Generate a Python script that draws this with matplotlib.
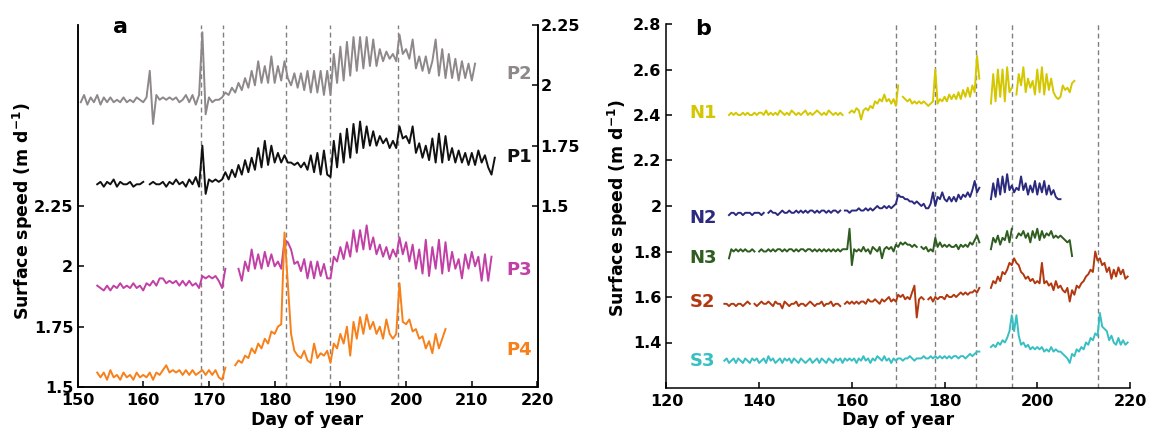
import numpy as np
import matplotlib
matplotlib.use("Agg")
import matplotlib.pyplot as plt

nan = np.nan

# ---- panel a: half-day samples, first sample at day 150.0 (rows = 5 days) ----
a_start = 150.0
p2 = [nan, 1.93, 1.96, 1.92, 1.95, 1.93, 1.96, 1.92, 1.95, 1.93,
      1.95, 1.93, 1.94, 1.93, 1.95, 1.93, 1.94, 1.93, 1.95, 1.94,
      1.93, 1.95, 2.06, 1.84, 1.96, 1.94, 1.95, 1.94, 1.95, 1.94,
      1.95, 1.93, 1.94, 1.96, 1.93, 1.96, 1.92, 1.96, 2.22, 1.88,
      1.95, 1.93, 1.94, 1.94, 1.95, 1.97, 1.96, 1.99, 1.97, 2.01,
      1.98, 2.03, 1.99, 2.06, 2.00, 2.10, 2.01, 2.08, 2.01, 2.12,
      2.01, 2.08, 2.02, 2.10, 2.03, 2.00, 2.05, 1.99, 2.05, 1.98,
      2.06, 1.97, 2.06, 1.97, 2.06, 1.96, 2.06, 1.96, 2.13, 2.01,
      2.16, 2.02, 2.18, 2.04, 2.20, 2.06, 2.20, 2.07, 2.20, 2.08,
      2.19, 2.08, 2.15, 2.10, 2.14, 2.11, 2.13, 2.10, 2.21, 2.13,
      2.15, 2.11, 2.19, 2.07, 2.12, 2.06, 2.12, 2.05, 2.10, 2.19,
      2.04, 2.15, 2.03, 2.13, 2.03, 2.11, 2.02, 2.10, 2.03, 2.09,
      2.02, 2.09, nan, nan, nan, nan, nan, nan, nan, nan]
p1 = [nan, nan, nan, nan, nan, nan, 1.59, 1.60, 1.58, 1.60,
      1.59, 1.61, 1.58, 1.60, 1.59, 1.59, 1.60, 1.58, 1.59, 1.59,
      1.60, nan, 1.59, 1.60, 1.59, 1.59, 1.60, 1.58, 1.60, 1.59,
      1.61, 1.59, 1.60, 1.58, 1.61, 1.59, 1.62, 1.58, 1.75, 1.55,
      1.61, 1.60, 1.61, 1.60, 1.61, 1.64, 1.61, 1.65, 1.62, 1.67,
      1.63, 1.69, 1.64, 1.70, 1.65, 1.74, 1.66, 1.77, 1.67, 1.75,
      1.68, 1.72, 1.68, 1.71, 1.68, 1.68, 1.67, 1.68, 1.66, 1.68,
      1.65, 1.71, 1.64, 1.72, 1.63, 1.73, 1.63, 1.62, 1.77, 1.66,
      1.80, 1.68, 1.82, 1.70, 1.84, 1.72, 1.85, 1.74, 1.83, 1.75,
      1.81, 1.75, 1.79, 1.76, 1.78, 1.74, 1.77, 1.74, 1.83, 1.78,
      1.79, 1.76, 1.83, 1.72, 1.76, 1.70, 1.75, 1.69, 1.78, 1.68,
      1.80, 1.68, 1.79, 1.69, 1.74, 1.68, 1.73, 1.68, 1.72, 1.67,
      1.72, 1.67, 1.73, 1.68, 1.71, 1.66, 1.63, 1.70, nan, nan]
p3 = [nan, nan, nan, nan, nan, nan, 1.92, 1.91, 1.90, 1.92,
      1.90, 1.92, 1.91, 1.93, 1.91, 1.92, 1.91, 1.93, 1.91, 1.92,
      1.90, 1.93, 1.92, 1.94, 1.92, 1.95, 1.95, 1.93, 1.94, 1.93,
      1.94, 1.92, 1.94, 1.92, 1.94, 1.92, 1.93, 1.91, 1.96, 1.95,
      1.96, 1.95, 1.96, 1.94, 1.91, 1.99, nan, nan, nan, 1.99,
      1.94, 2.02, 1.98, 2.07, 1.99, 2.05, 1.99, 2.06, 2.00, 2.05,
      2.00, 2.02, 1.99, 2.11, 2.10, 2.07, 2.01, 2.02, 1.98, 2.03,
      1.95, 2.02, 1.95, 2.02, 1.96, 2.01, 1.95, 1.95, 2.04, 2.02,
      2.08, 2.03, 2.10, 2.04, 2.15, 2.06, 2.15, 2.07, 2.17, 2.07,
      2.12, 2.05, 2.09, 2.04, 2.08, 2.03, 2.07, 2.04, 2.12, 2.05,
      2.10, 2.02, 2.09, 1.99, 2.07, 1.97, 2.11, 1.96, 2.08, 1.99,
      2.11, 1.97, 2.10, 1.98, 2.06, 1.99, 2.03, 1.95, 2.05, 1.99,
      2.06, 2.00, 2.04, 1.94, 2.05, 1.94, 2.04, nan, nan, nan]
p4 = [nan, nan, nan, nan, nan, nan, 1.56, 1.54, 1.56, 1.53,
      1.57, 1.54, 1.55, 1.53, 1.56, 1.54, 1.55, 1.53, 1.56, 1.54,
      1.55, 1.54, 1.56, 1.53, 1.56, 1.55, 1.57, 1.59, 1.56, 1.57,
      1.56, 1.57, 1.55, 1.57, 1.55, 1.57, 1.55, 1.56, 1.57, 1.55,
      1.57, 1.55, 1.57, 1.54, 1.53, 1.58, nan, nan, 1.59, 1.61,
      1.60, 1.63, 1.62, 1.66, 1.64, 1.68, 1.66, 1.70, 1.68, 1.73,
      1.72, 1.75, 1.76, 2.14, 1.93, 1.72, 1.65, 1.63, 1.62, 1.65,
      1.61, 1.60, 1.68, 1.62, 1.64, 1.63, 1.65, 1.60, 1.68, 1.66,
      1.72, 1.68, 1.75, 1.63, 1.77, 1.70, 1.79, 1.72, 1.80, 1.74,
      1.77, 1.72, 1.75, 1.70, 1.78, 1.72, 1.70, 1.72, 1.93, 1.77,
      1.76, 1.78, 1.73, 1.74, 1.70, 1.71, 1.66, 1.69, 1.64, 1.72,
      1.66, 1.70, 1.74, nan, nan, nan, nan, nan, nan, nan,
      nan, nan, nan, nan, nan, nan, nan, nan, nan, nan]
events_a = [168.8, 172.1, 181.7, 188.4, 198.7]

# ---- panel b: half-day samples, first sample at day 130.0 ----
b_start = 130.0
n1 = [nan, nan, nan, nan, nan, nan, nan, 2.40, 2.41, 2.40,
      2.41, 2.40, 2.40, 2.41, 2.40, 2.41, 2.40, 2.40, 2.41, 2.40,
      2.41, 2.41, 2.40, 2.42, 2.40, 2.41, 2.40, 2.41, 2.40, 2.42,
      2.41, 2.40, 2.41, 2.40, 2.42, 2.41, 2.40, 2.41, 2.40, 2.41,
      2.42, 2.40, 2.41, 2.40, 2.41, 2.42, 2.41, 2.40, 2.41, 2.40,
      2.42, 2.41, 2.40, 2.41, 2.40, 2.41, 2.40, nan, nan, 2.41,
      2.42, 2.41, 2.43, 2.42, 2.38, 2.42, 2.43, 2.42, 2.44, 2.43,
      2.46, 2.45, 2.47, 2.46, 2.49, 2.46, 2.47, 2.45, 2.47, 2.44,
      2.53, nan, 2.48, 2.47, 2.46, 2.47, 2.45, 2.46, 2.45, 2.46,
      2.45, 2.46, 2.45, 2.44, 2.45, 2.46, 2.60, 2.45, 2.47, 2.46,
      2.48, 2.46, 2.49, 2.47, 2.49, 2.47, 2.50, 2.47, 2.51, 2.48,
      2.52, 2.48, 2.53, 2.50, 2.66, 2.56, nan, nan, nan, nan,
      2.45, 2.58, 2.46, 2.60, 2.48, 2.60, 2.46, 2.61, 2.50, 2.52,
      nan, 2.49, 2.58, 2.53, 2.61, 2.50, 2.56, 2.52, 2.55, 2.49,
      2.60, 2.50, 2.61, 2.49, 2.58, 2.51, 2.56, 2.50, 2.48, 2.47,
      2.48, 2.53, 2.51, 2.52, 2.50, 2.54, 2.55, nan, nan, nan,
      nan, nan, nan, nan, nan, nan, nan, nan, nan, nan,
      nan, nan, nan, nan, nan, nan, nan, nan, nan, nan]
n2 = [nan, nan, nan, nan, nan, nan, nan, 1.96, 1.97, 1.97,
      1.96, 1.97, 1.97, 1.96, 1.97, 1.97, 1.97, 1.96, 1.97, 1.97,
      1.97, 1.96, 1.97, nan, 1.97, 1.98, 1.97, 1.97, 1.96, 1.97,
      1.98, 1.97, 1.97, 1.98, 1.97, 1.97, 1.98, 1.97, 1.98, 1.97,
      1.98, 1.97, 1.98, 1.98, 1.97, 1.98, 1.97, 1.98, 1.98, 1.97,
      1.98, 1.97, 1.98, 1.98, 1.97, 1.98, nan, 1.98, 1.98, 1.97,
      1.98, 1.98, 1.98, 1.99, 1.98, 1.98, 1.99, 1.98, 1.99, 1.98,
      1.99, 2.00, 1.99, 1.99, 2.00, 1.99, 2.00, 1.99, 2.00, 2.01,
      2.05, 2.04, 2.04, 2.03, 2.03, 2.02, 2.02, 2.01, 2.02, 2.01,
      2.00, 2.01, 1.99, 1.99, 2.01, 2.06, 2.00, 2.04, 2.03, 2.06,
      2.03, 2.02, 2.04, 2.02, 2.04, 2.02, 2.05, 2.03, 2.05, 2.04,
      2.06, 2.04, 2.07, 2.11, 2.06, 2.08, nan, nan, nan, nan,
      2.03, 2.10, 2.04, 2.12, 2.05, 2.13, 2.06, 2.14, 2.07, 2.09,
      2.06, 2.08, 2.07, 2.13, 2.07, 2.10, 2.05, 2.09, 2.06, 2.11,
      2.05, 2.10, 2.06, 2.11, 2.05, 2.09, 2.05, 2.07, 2.04, 2.03,
      2.03, nan, nan, nan, nan, nan, nan, nan, nan, nan,
      nan, nan, nan, nan, nan, nan, nan, nan, nan, nan,
      nan, nan, nan, nan, nan, nan, nan, nan, nan, nan]
n3 = [nan, nan, nan, nan, nan, nan, nan, 1.77, 1.81, 1.80,
      1.81, 1.80, 1.81, 1.80, 1.81, 1.80, 1.80, 1.81, 1.80, nan,
      1.80, 1.81, 1.80, 1.80, 1.81, 1.80, 1.81, 1.80, 1.81, 1.81,
      1.80, 1.81, 1.80, 1.81, 1.81, 1.80, 1.81, 1.80, 1.81, 1.81,
      1.80, 1.81, 1.81, 1.80, 1.81, 1.80, 1.81, 1.80, 1.81, 1.80,
      1.81, 1.80, 1.81, 1.80, 1.81, 1.80, 1.81, 1.81, 1.81, 1.90,
      1.74, 1.81, 1.80, 1.81, 1.80, 1.82, 1.80, 1.81, 1.79, 1.82,
      1.81, 1.80, 1.82, 1.77, 1.81, 1.82, 1.81, 1.82, 1.80, 1.83,
      1.82, 1.84, 1.83, 1.84, 1.83, 1.83, 1.82, 1.83, 1.82, nan,
      1.82, 1.81, 1.82, 1.80, 1.81, 1.80, 1.86, 1.82, 1.84, 1.82,
      1.83, 1.82, 1.83, 1.82, 1.82, 1.83, 1.81, 1.83, 1.82, 1.83,
      1.82, 1.84, 1.83, 1.85, 1.87, 1.84, nan, nan, nan, nan,
      1.81, 1.86, 1.84, 1.87, 1.83, 1.86, 1.85, 1.89, 1.84, 1.90,
      nan, 1.86, 1.88, 1.87, 1.89, 1.86, 1.88, 1.84, 1.89, 1.86,
      1.90, 1.85, 1.89, 1.86, 1.88, 1.87, 1.89, 1.86, 1.87, 1.86,
      1.87, 1.86, 1.85, 1.84, 1.85, 1.78, nan, nan, nan, nan,
      nan, nan, nan, nan, nan, nan, nan, nan, nan, nan,
      nan, nan, nan, nan, nan, nan, nan, nan, nan, nan]
s2 = [nan, nan, nan, nan, nan, 1.57, 1.57, 1.56, 1.57, 1.57,
      1.56, 1.57, 1.57, 1.56, 1.57, 1.58, 1.57, nan, 1.57, 1.56,
      1.57, 1.58, 1.57, 1.57, 1.58, 1.57, 1.56, 1.58, 1.57, 1.57,
      1.55, 1.58, 1.57, 1.56, 1.57, 1.57, 1.58, 1.56, 1.57, 1.57,
      1.56, 1.57, 1.58, 1.57, 1.56, 1.57, 1.57, 1.58, 1.56, 1.57,
      1.57, 1.58, 1.56, 1.57, 1.57, 1.56, nan, 1.57, 1.58, 1.57,
      1.58, 1.57, 1.58, 1.57, 1.58, 1.58, 1.57, 1.59, 1.58, 1.58,
      1.59, 1.58, 1.57, 1.59, 1.58, 1.59, 1.60, 1.58, 1.59, 1.58,
      1.61, 1.60, 1.61, 1.59, 1.60, 1.59, 1.62, 1.65, 1.51, 1.59,
      1.60, 1.59, nan, 1.59, 1.60, 1.58, 1.60, 1.59, 1.60, 1.60,
      1.59, 1.61, 1.60, 1.60, 1.61, 1.60, 1.61, 1.62, 1.61, 1.62,
      1.61, 1.62, 1.62, 1.63, 1.62, 1.64, nan, nan, nan, nan,
      1.64, 1.67, 1.66, 1.69, 1.67, 1.71, 1.70, 1.72, 1.75, 1.74,
      1.77, 1.75, 1.74, 1.71, 1.70, 1.68, 1.69, 1.67, 1.68, 1.66,
      1.67, 1.66, 1.75, 1.66, 1.67, 1.65, 1.66, 1.63, 1.67, 1.64,
      1.65, 1.63, 1.62, 1.64, 1.58, 1.63, 1.61, 1.65, 1.64, 1.66,
      1.67, 1.69, 1.70, 1.72, 1.71, 1.80, 1.76, 1.77, 1.74, 1.75,
      1.71, 1.73, 1.68, 1.72, 1.69, 1.73, 1.70, 1.72, 1.68, 1.69]
s3 = [nan, nan, nan, nan, nan, 1.32, 1.33, 1.31, 1.32, 1.33,
      1.31, 1.33, 1.32, 1.31, 1.33, 1.32, 1.31, 1.33, 1.32, 1.33,
      1.31, 1.32, 1.33, 1.31, 1.34, 1.32, 1.33, 1.31, 1.32, 1.33,
      1.31, 1.33, 1.32, 1.33, 1.31, 1.33, 1.32, 1.31, 1.33, 1.32,
      1.31, 1.32, 1.33, 1.31, 1.32, 1.33, 1.31, 1.33, 1.32, 1.31,
      1.33, 1.32, 1.31, 1.33, 1.32, 1.33, 1.31, 1.33, 1.32, 1.33,
      1.32, 1.33, 1.31, 1.33, 1.32, 1.34, 1.32, 1.33, 1.31, 1.33,
      1.32, 1.34, 1.33, 1.32, 1.34, 1.32, 1.33, 1.31, 1.33, 1.32,
      1.33, 1.33, 1.32, 1.33, 1.33, 1.34, 1.33, 1.32, 1.33, 1.33,
      1.33, 1.34, 1.33, 1.33, 1.34, 1.33, 1.34, 1.33, 1.34, 1.33,
      1.34, 1.33, 1.34, 1.33, 1.34, 1.34, 1.33, 1.34, 1.34, 1.33,
      1.34, 1.35, 1.34, 1.35, 1.36, 1.36, nan, nan, nan, nan,
      1.38, 1.39, 1.38, 1.40, 1.39, 1.41, 1.40, 1.42, 1.45, 1.52,
      1.45, 1.52, 1.43, 1.39, 1.40, 1.38, 1.39, 1.37, 1.38, 1.37,
      1.38, 1.37, 1.38, 1.36, 1.37, 1.36, 1.38, 1.36, 1.37, 1.36,
      1.36, 1.35, 1.34, 1.33, 1.31, 1.35, 1.34, 1.37, 1.36, 1.38,
      1.37, 1.40, 1.39, 1.42, 1.41, 1.44, 1.43, 1.53, 1.47, 1.46,
      1.45, 1.41, 1.43, 1.40, 1.39, 1.42, 1.39, 1.41, 1.39, 1.40]
events_b = [169.6, 177.9, 186.7, 194.6, 213.0]

# colours
c_p2, c_p1, c_p3, c_p4 = "#8e8888", "#111111", "#c23fa6", "#f7801a"
c_n1, c_n2, c_n3, c_s2, c_s3 = "#d4c700", "#2b2a7e", "#2e5d1f", "#b2380f", "#37bfc3"

plt.rcParams["font.family"] = "DejaVu Sans"
plt.rcParams["font.weight"] = "bold"
fs = 11.5

W, H = 1149, 428
fig = plt.figure(figsize=(W / 100, H / 100), dpi=100)

def pxbox(l, r, t, b):
    return [l / W, 1 - b / H, (r - l) / W, (b - t) / H]

days_a = a_start + 0.5 * np.arange(len(p2))
days_b = b_start + 0.5 * np.arange(len(n1))
dash = (0, (3.5, 2.5))

# ---------- panel a ----------
ax = fig.add_axes(pxbox(77.5, 537.5, 25, 387))
axr = ax.twinx()
for x in events_a:
    ax.axvline(x, color="#808080", lw=1.0, ls=dash, zorder=1)
ax.plot(days_a, p3, color=c_p3, lw=1.4)
ax.plot(days_a, p4, color=c_p4, lw=1.4)
axr.plot(days_a, p2, color=c_p2, lw=1.4)
axr.plot(days_a, p1, color=c_p1, lw=1.4)
ax.set_xlim(150, 220)
ax.set_ylim(1.5, 3.0)
axr.set_ylim(0.75, 2.25)
ax.set_xticks(range(150, 221, 10))
ax.set_yticks([1.5, 1.75, 2, 2.25])
ax.set_yticklabels(["1.5", "1.75", "2", "2.25"])
axr.set_yticks([1.5, 1.75, 2, 2.25])
axr.set_yticklabels(["1.5", "1.75", "2", "2.25"])
for a_ in (ax, axr):
    a_.spines["top"].set_visible(False)
    for s in a_.spines.values():
        s.set_linewidth(1.1)
ax.tick_params(axis="x", direction="in", length=4, width=1.1, pad=4, labelsize=fs)
ax.tick_params(axis="y", direction="in", length=4, width=1.1, pad=3, labelsize=fs)
axr.tick_params(axis="y", direction="in", length=4, width=1.1, pad=2, labelsize=fs)
ax.text(215.2, 2.795, "P2", color=c_p2, fontsize=13, va="center")
ax.text(215.2, 2.454, "P1", color=c_p1, fontsize=13, va="center")
ax.text(215.2, 1.985, "P3", color=c_p3, fontsize=13, va="center")
ax.text(215.2, 1.654, "P4", color=c_p4, fontsize=13, va="center")
fig.text(120 / W, 1 - 33 / H, "a", fontsize=16, ha="center", va="baseline")
fig.text(23 / W, 1 - 211 / H, "Surface speed (m d$^{\\mathbf{-1}}$)", rotation=90,
         fontsize=12.5, ha="center", va="center")
fig.text(307.5 / W, 1 - 420 / H, "Day of year", fontsize=12.5, ha="center", va="center")

# ---------- panel b ----------
bx = fig.add_axes(pxbox(666.4, 1130, 24, 388))
for x in events_b:
    bx.axvline(x, color="#808080", lw=1.0, ls=dash, zorder=1)
for vals, col in [(n1, c_n1), (n2, c_n2), (n3, c_n3), (s2, c_s2), (s3, c_s3)]:
    bx.plot(days_b, vals, color=col, lw=1.4)
bx.set_xlim(120, 220)
bx.set_ylim(1.2, 2.8)
bx.set_xticks(range(120, 221, 20))
bx.set_yticks([1.4, 1.6, 1.8, 2.0, 2.2, 2.4, 2.6, 2.8])
bx.set_yticklabels(["1.4", "1.6", "1.8", "2", "2.2", "2.4", "2.6", "2.8"])
bx.spines["top"].set_visible(False)
bx.spines["right"].set_visible(False)
for s in bx.spines.values():
    s.set_linewidth(1.1)
bx.tick_params(axis="x", direction="in", length=4, width=1.1, pad=4, labelsize=fs)
bx.tick_params(axis="y", direction="in", length=4, width=1.1, pad=3.5, labelsize=fs)
for lab, yv, col in [("N1", 2.41, c_n1), ("N2", 1.949, c_n2), ("N3", 1.773, c_n3),
                     ("S2", 1.58, c_s2), ("S3", 1.317, c_s3)]:
    bx.text(125.0, yv, lab, color=col, fontsize=13, va="center")
fig.text(703.5 / W, 1 - 35 / H, "b", fontsize=16, ha="center", va="baseline")
fig.text(618 / W, 1 - 208 / H, "Surface speed (m d$^{\\mathbf{-1}}$)", rotation=90,
         fontsize=12.5, ha="center", va="center")
fig.text(898 / W, 1 - 420 / H, "Day of year", fontsize=12.5, ha="center", va="center")

fig.savefig("out.png", dpi=100)
